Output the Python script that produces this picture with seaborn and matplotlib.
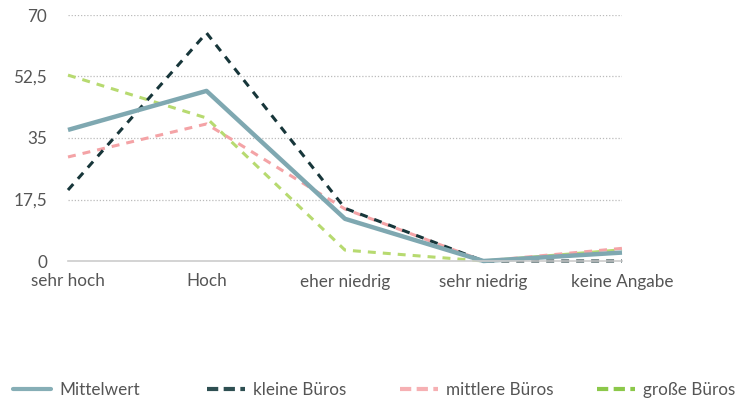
import matplotlib
matplotlib.use("Agg")
import matplotlib.pyplot as plt
import seaborn as sns
import pandas as pd
from matplotlib.lines import Line2D

categories = ["sehr hoch", "Hoch", "eher niedrig", "sehr niedrig", "keine Angabe"]
mittelwert = [37.3, 48.4, 12.0, 0.0, 2.4]
kleine = [20.2, 64.9, 15.0, 0.0, 0.0]
mittlere = [29.6, 39.0, 14.8, 0.0, 3.6]
grosse = [52.9, 40.7, 3.1, 0.0, 3.2]
series_names = ["Mittelwert", "kleine Büros", "mittlere Büros", "große Büros"]
yticks = [0, 17.5, 35, 52.5, 70]
ytick_labels = ["0", "17,5", "35", "52,5", "70"]

sns.set_theme(style="white")
plt.rcParams["font.family"] = ["Lato", "DejaVu Sans"]

colors = {"Mittelwert": "#7fa8b1", "kleine Büros": "#17363a",
          "mittlere Büros": "#f4a3a6", "große Büros": "#b7da70"}
legend_colors = {"Mittelwert": "#86aeb6", "kleine Büros": "#2e4f52",
                 "mittlere Büros": "#f6b0b3", "große Büros": "#8cc84a"}
styles = {"Mittelwert": dict(lw=3.2, dashes=None),
          "kleine Büros": dict(lw=2.2, dashes=(2.6, 2.3)),
          "mittlere Büros": dict(lw=2.2, dashes=(2.6, 2.3)),
          "große Büros": dict(lw=2.2, dashes=(2.6, 2.3))}

rows = []
for name, vals in zip(series_names, [mittelwert, kleine, mittlere, grosse]):
    for i, v in enumerate(vals):
        rows.append({"x": i, "y": v, "series": name})
df = pd.DataFrame(rows)

fig = plt.figure(figsize=(7.38, 4.05), dpi=100)
ax = fig.add_axes([68/738, 1-261/405, (622-68)/738, (261-15)/405])

draw_order = ["große Büros", "mittlere Büros", "kleine Büros", "Mittelwert"]
for name in draw_order:
    sub = df[df["series"] == name]
    st = styles[name]
    sns.lineplot(data=sub, x="x", y="y", ax=ax, color=colors[name],
                 linewidth=st["lw"], legend=False)
    l = ax.get_lines()[-1]
    if st["dashes"]:
        l.set_dashes(st["dashes"])
    l.set_solid_capstyle("butt")
    l.set_clip_on(False)

ax.set_xlim(0, 4)
ax.set_ylim(0, 70)
ax.set_yticks(yticks)
ax.set_yticklabels(ytick_labels)
ax.set_xticks(range(len(categories)))
ax.set_xticklabels(categories)
ax.set_xlabel("")
ax.set_ylabel("")
for s in ["left", "right", "top"]:
    ax.spines[s].set_visible(False)
ax.spines["bottom"].set_color("#cccccc")
ax.spines["bottom"].set_linewidth(1.2)
for yv in yticks[1:]:
    ax.axhline(yv, color="#bbbbbb", lw=0.9, ls=(0, (1, 1.5)), zorder=0)
ax.tick_params(axis="both", length=0, labelsize=12.3, labelcolor="#555555")
ax.tick_params(axis="y", pad=15)
ax.tick_params(axis="x", pad=9)

# legend entries positioned individually
starts = [13, 207, 400, 597]
for name, x0 in zip(series_names, starts):
    st = styles[name]
    h = Line2D([0], [0], color=legend_colors[name], lw=3.0)
    if st["dashes"]:
        h.set_dashes((2.7, 1.3))
    leg = fig.legend([h], [name], loc="center left",
                     bbox_to_anchor=(x0/738 - 0.0, 1 - 390/405),
                     frameon=False, fontsize=12.3, handlelength=2.25,
                     handletextpad=0.45, borderaxespad=0, borderpad=0)
    for t in leg.get_texts():
        t.set_color("#555555")

fig.savefig("out.png", dpi=100)
